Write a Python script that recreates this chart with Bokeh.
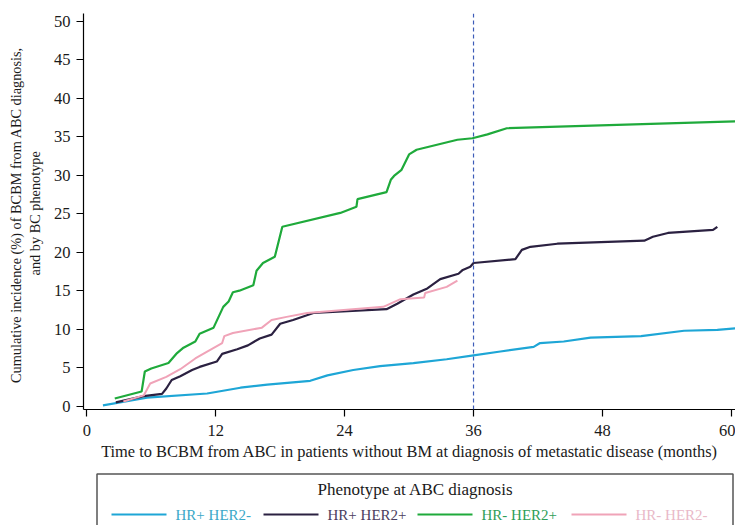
from bokeh.plotting import figure
from bokeh.models import ColumnDataSource, Span, FixedTicker, Range1d
from bokeh.layouts import column
from bokeh.embed import file_html
from bokeh.resources import INLINE
from bokeh.core.properties import value

# ---------------- data ----------------
categories = ["HR+ HER2-", "HR+ HER2+", "HR- HER2+", "HR- HER2-"]

hrp_her2n_x = [1.5, 5.6, 11.2, 14.3, 16.8, 20.8, 22.4, 24.8, 27.3, 30.4, 33.5, 36.0,
               38.5, 41.6, 42.2, 44.4, 46.9, 51.6, 55.6, 58.7, 60.4]
hrp_her2n_y = [0.1, 1.1, 1.65, 2.4, 2.8, 3.3, 4.0, 4.7, 5.2, 5.6, 6.1, 6.6,
               7.1, 7.7, 8.2, 8.4, 8.9, 9.1, 9.8, 9.9, 10.1]

hrp_her2p_x = [2.7, 5.3, 7.0, 7.4, 7.9, 8.7, 9.8, 10.5, 12.1, 12.6, 14.0, 15.0, 16.1,
               17.2, 18.0, 19.2, 21.1, 27.9, 28.9, 30.4, 31.7, 32.9, 34.6, 35.0, 35.7,
               36.0, 39.9, 40.5, 41.3, 43.8, 51.9, 52.7, 54.1, 58.3, 58.7]
hrp_her2p_y = [0.5, 1.3, 1.6, 2.3, 3.4, 3.9, 4.7, 5.1, 5.8, 6.8, 7.4, 7.9, 8.8,
               9.3, 10.7, 11.2, 12.1, 12.6, 13.3, 14.5, 15.3, 16.5, 17.2, 17.7, 18.1,
               18.6, 19.1, 20.3, 20.7, 21.1, 21.5, 22.0, 22.5, 22.9, 23.3]

hrn_her2p_x = [2.6, 5.1, 5.4, 6.0, 7.6, 8.4, 9.0, 10.1, 10.5, 11.8, 12.7, 13.2, 13.6,
               14.2, 15.5, 15.8, 16.4, 17.5, 18.2, 23.6, 25.1, 25.2, 27.9, 28.3, 28.6,
               29.3, 30.0, 30.7, 34.5, 35.9, 37.3, 39.1, 60.4]
hrn_her2p_y = [1.0, 1.9, 4.5, 4.9, 5.6, 6.9, 7.6, 8.4, 9.4, 10.2, 12.9, 13.6, 14.8,
               15.0, 15.7, 17.6, 18.6, 19.4, 23.3, 25.1, 25.9, 26.9, 27.8, 29.4, 29.9,
               30.7, 32.7, 33.3, 34.6, 34.8, 35.3, 36.1, 37.0]

hrn_her2n_x = [3.4, 5.3, 5.9, 7.4, 8.7, 10.1, 11.2, 12.6, 12.8, 13.6, 16.3, 17.2,
               18.6, 20.5, 27.6, 29.2, 31.4, 31.5, 33.5, 34.5]
hrn_her2n_y = [0.6, 1.4, 2.95, 3.8, 4.8, 6.2, 7.1, 8.2, 9.1, 9.5, 10.2, 11.2,
               11.6, 12.1, 12.9, 13.9, 14.1, 14.7, 15.5, 16.3]

x_ticks = [0, 12, 24, 36, 48, 60]
y_ticks = [0, 5, 10, 15, 20, 25, 30, 35, 40, 45, 50]
landmark_month = 36

line_colors = ["#1ea6d6", "#2b2141", "#1faa3b", "#f0a3b8"]
text_colors = ["#3aa8c8", "#4b3d5e", "#2f9e58", "#e9b9c8"]
line_widths = [2.2, 2.2, 2.2, 2.0]

SERIF = "Liberation Serif"

# ---------------- main plot ----------------
p = figure(width=735, height=468, output_backend="svg", toolbar_location=None,
           x_range=Range1d(-0.31, 60.39), y_range=Range1d(-0.43, 51.0),
           min_border_left=83, min_border_right=0, min_border_top=13,
           min_border_bottom=59)
p.outline_line_color = None
p.grid.visible = False
p.background_fill_color = "white"
p.border_fill_color = "white"

series = [(hrp_her2n_x, hrp_her2n_y), (hrp_her2p_x, hrp_her2p_y),
          (hrn_her2p_x, hrn_her2p_y), (hrn_her2n_x, hrn_her2n_y)]
for (xs, ys), c, w in zip(series, line_colors, line_widths):
    src = ColumnDataSource(data=dict(x=xs, y=ys))
    p.line("x", "y", source=src, line_color=c, line_width=w)

p.add_layout(Span(location=landmark_month, dimension="height",
                  line_color="#3d5cb8", line_dash="4 3", line_width=1.2))

for ax in (p.xaxis[0], p.yaxis[0]):
    ax.axis_line_color = "black"
    ax.axis_line_width = 1.2
    ax.major_tick_line_color = "black"
    ax.major_tick_line_width = 1.2
    ax.major_tick_in = 0
    ax.major_tick_out = 7
    ax.minor_tick_line_color = None
    ax.major_label_text_font = SERIF
    ax.major_label_text_font_size = "16.5px"
    ax.major_label_text_color = "#1a1a1a"
    ax.axis_label_text_font = SERIF
    ax.axis_label_text_font_style = "normal"
    ax.axis_label_text_color = "#1a1a1a"

p.xaxis.ticker = FixedTicker(ticks=x_ticks)
p.yaxis.ticker = FixedTicker(ticks=y_ticks)
p.xaxis.major_label_standoff = 8
p.yaxis.major_label_standoff = 6
p.xaxis.axis_label = "Time to BCBM from ABC in patients without BM at diagnosis of metastatic disease (months)"
p.xaxis.axis_label_text_font_size = "16.4px"
p.xaxis.axis_label_standoff = 3
p.yaxis.axis_label = "Cumulative incidence (%) of  BCBM from  ABC diagnosis,\nand by BC  phenotype"
p.yaxis.axis_label_text_font_size = "14.3px"
p.yaxis.axis_label_standoff = 8

# ---------------- legend panel ----------------
# the column aligns frames, so this panel's frame starts at the same x (83px)
leg = figure(width=735, height=57, output_backend="svg", toolbar_location=None,
             x_range=Range1d(83, 735), y_range=Range1d(57, 0),
             min_border=0, min_border_left=83, min_border_right=0,
             min_border_top=0, min_border_bottom=0)
leg.axis.visible = False
leg.grid.visible = False
leg.outline_line_color = None

leg.quad(left=[96.5], right=[732.5], top=[5.5], bottom=[80],
         fill_color="white", line_color="#555555", line_width=1.5)
leg.text(x=[415], y=[20.5], text=["Phenotype at ABC diagnosis"],
         text_font=value(SERIF), text_font_size="17px", text_color="#1a1a1a",
         text_align="center", text_baseline="middle")

line_x0 = [111, 263, 417, 571]
line_len = 55
leg_src = ColumnDataSource(data=dict(
    x0=line_x0,
    x1=[x + line_len for x in line_x0],
    tx=[x + line_len + 9 for x in line_x0],
    y=[46] * 4,
    label=categories,
    lc=line_colors,
    tc=text_colors,
))
leg.segment(x0="x0", y0="y", x1="x1", y1="y", source=leg_src,
            line_color="lc", line_width=2)
leg.text(x="tx", y="y", text="label", source=leg_src,
         text_font=value(SERIF), text_font_size="15px", text_color="tc",
         text_align="left", text_baseline="middle")

layout = column(p, leg, spacing=0)
open("out.html", "w").write(file_html(layout, INLINE))
